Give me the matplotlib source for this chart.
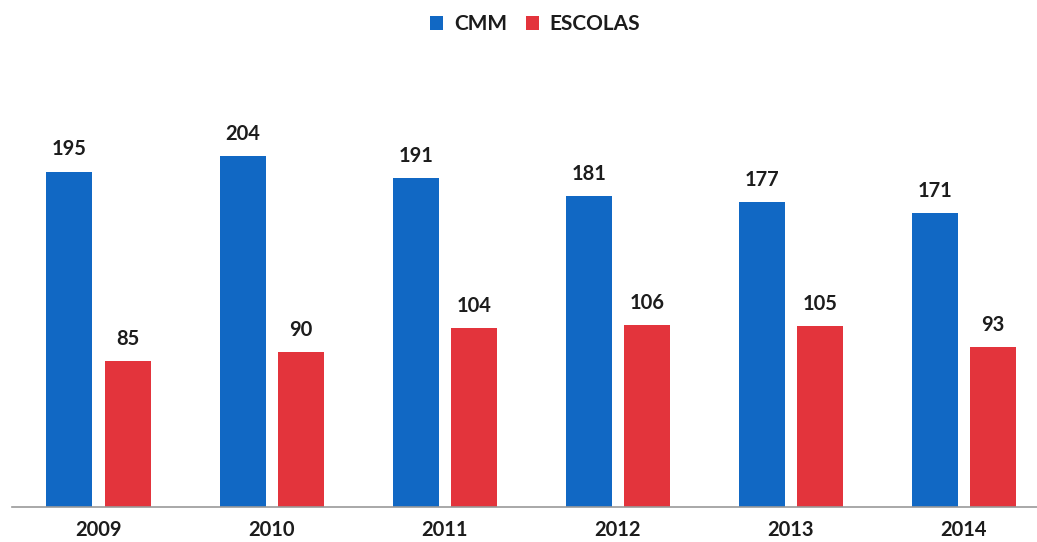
import numpy as np
import matplotlib.pyplot as plt

years = ['2009', '2010', '2011', '2012', '2013', '2014']
cmm = [195, 204, 191, 181, 177, 171]
escolas = [85, 90, 104, 106, 105, 93]

blue = '#1168c4'
red = '#e3343c'
txt = '#1c1c1c'

plt.rcParams['font.family'] = ['Lato', 'DejaVu Sans']

fig = plt.figure(figsize=(10.37, 5.42), dpi=100)
ax = fig.add_axes([12 / 1037, 35 / 542, 1025 / 1037, 437 / 542])

x = np.arange(len(years))
w = 0.266
off = 0.168
b1 = ax.bar(x - off, cmm, w, color=blue, label='CMM')
b2 = ax.bar(x + off, escolas, w, color=red, label='ESCOLAS')

for bars, vals in ((b1, cmm), (b2, escolas)):
    for r, v in zip(bars, vals):
        ax.text(r.get_x() + r.get_width() / 2, v + 7, str(v), ha='center', va='bottom',
                fontsize=14.5, fontweight='bold', color=txt)

ax.set_xlim(-0.5, 5.422)
ax.set_ylim(0, 254)
ax.set_xticks(x)
ax.set_xticklabels(years, fontsize=14.5, fontweight='bold', color=txt)
ax.tick_params(axis='x', length=0, pad=9)
ax.set_yticks([])
for s in ['top', 'right', 'left']:
    ax.spines[s].set_visible(False)
ax.spines['bottom'].set_color('#999999')
ax.spines['bottom'].set_linewidth(1.2)

fig.legend(loc='upper center', bbox_to_anchor=(0.516, 1.008), ncol=2, frameon=False,
           prop={'size': 15, 'weight': 'bold'}, handlelength=0.65, handleheight=0.65,
           columnspacing=0.9, handletextpad=0.5, labelcolor=txt)

fig.savefig('out.png', dpi=100)
